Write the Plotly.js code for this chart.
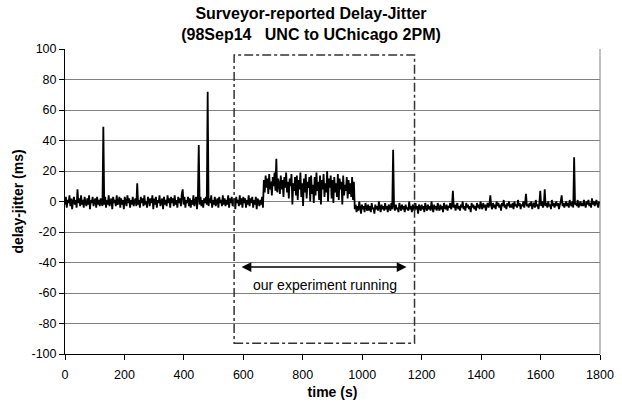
<!DOCTYPE html>
<html>
<head>
<meta charset="utf-8">
<script src="https://cdn.plot.ly/plotly-3.0.1.min.js"></script>
<style>html,body{margin:0;padding:0;background:#fff;}#chart{width:622px;height:404px;}</style>
</head>
<body>
<div id="chart"></div>
<script>
// sample interval (s) of the delay-jitter samples
var sampleStep = 3;

// 0 - 657 s : before the experiment
var jitterA = [
 -2,3,-4,1,-1,4,-3,2,-5,0,3,-2,1,-4,8,-1,2,-3,4,-2,
 1,-4,3,-1,-3,2,-2,4,-5,1,-1,3,-3,0,2,-4,3,-2,1,-3,
 2,-1,-3,49,-2,3,-4,1,-2,4,-3,0,2,-5,3,-1,1,-3,4,-2,
 -1,3,-4,2,-2,1,-5,3,0,-3,4,-1,2,-4,1,-2,3,-3,0,2,
 -3,12,-2,1,-4,3,-1,2,-3,4,-2,0,-4,3,1,-3,2,-1,4,-5,
 2,-2,3,-4,1,-1,4,-3,0,2,-5,3,-2,1,-3,4,-1,2,-4,3,
 -1,2,-3,4,-2,1,-4,3,-1,2,-3,5,8,-2,3,-4,1,-1,3,-3,
 2,-4,1,-2,4,-3,0,3,-5,2,37,-2,3,-3,1,-4,2,-1,3,-2,
 72,-3,2,-1,4,-4,1,-2,3,-3,0,2,-4,3,-1,1,-3,4,-2,2,
 -3,1,-2,4,-4,2,-1,3,-3,0,2,-5,3,-1,1,-3,4,-2,2,-4,
 3,-1,2,-4,1,-2,4,-3,2,-1,3,-4,1,-2,3,-5,2,0,-3,1
];
// 660 - 957 s : experiment running
var jitterB = [
 -2,3,-4,14,6,17,9,15,5,18,8,13,4,16,10,19,7,28,6,15,
 11,5,17,8,14,3,16,9,19,6,13,2,15,10,18,-2,12,7,16,4,
 17,1,14,8,19,3,12,-3,15,6,18,2,13,9,16,0,17,5,11,-1,
 16,4,19,7,13,1,17,-2,14,8,18,3,12,6,20,0,15,9,17,2,
 14,-1,16,6,12,3,18,1,15,8,13,-2,17,4,11,7,16,2,14,5
];
// 960 - 1797 s : after
var jitterC = [
 12,3,16,1,13,-5,-2,-7,-3,-6,0,-4,-8,-2,-5,-3,-7,-1,-4,-6,
 -2,-6,-3,-7,-1,-5,-4,-8,-2,-5,-3,-6,0,-4,-7,-2,-5,-3,-6,-1,
 -5,-3,-7,-2,-4,-6,-1,-5,34,-3,-6,-2,-5,-4,-7,-1,-4,-6,-2,-5,
 -3,-7,-2,-5,-4,-6,0,-5,-3,-7,-2,-4,-6,-1,-5,-3,-8,-2,-4,-6,
 -2,-5,-3,-7,-1,-4,-6,-2,-5,-3,-6,0,-4,-7,-2,-5,-3,-6,-1,-4,
 -6,-2,-5,-3,-7,-1,-4,-5,-2,-6,-3,-4,-1,-5,-3,7,-4,-2,-6,-3,
 -1,-5,-3,-6,-2,-4,0,-5,-3,-6,-1,-4,-2,-5,-3,-7,-1,-4,-2,-5,
 -3,-6,-1,-4,-2,-5,0,-3,-5,-1,-4,-2,-6,-3,-1,-4,-2,4,-3,-5,
 -1,-4,-2,-5,0,-3,-1,-4,-2,-6,-1,-3,1,-4,-2,-5,-1,-3,0,-4,
 -2,-4,-1,-5,0,-3,-2,-4,1,-3,-1,-5,-2,-3,0,-4,-1,5,-3,-2,
 -4,-1,-3,0,-5,-2,-1,-4,1,-3,-2,-5,-1,7,-3,0,-4,-2,8,-3,
 -1,-4,0,-3,-2,-5,1,-3,-1,-4,-2,0,-3,-1,-5,-2,0,4,-3,-1,
 -4,-2,0,-3,-1,-4,1,-2,-3,0,-4,29,-2,-1,-3,1,-4,-2,0,-3,
 -1,-3,1,-2,-4,0,-2,1,-3,-1,-4,2,-2,0,-3,-1,1,-2,-4,0
];

var yTickVals = [-100,-80,-60,-40,-20,0,20,40,60,80,100];
var yTickText = ["-100","-80","-60","-40","-20","0","20","40","60","80","100"];
var xTickVals = [0,200,400,600,800,1000,1200,1400,1600,1800];
var xTickText = ["0","200","400","600","800","1000","1200","1400","1600","1800"];

// experiment window box and arrow (data units)
var boxX = [569, 1176];
var boxY = [-93, 96];
var arrowX = [589, 1149];
var arrowY = -43;
var noteText = "our experiment running";
var noteX = 875;
var noteY = -55;

var jitter = jitterA.concat(jitterB, jitterC);
var times = jitter.map(function (v, i) { return i * sampleStep; });

var font = "Arial, 'Liberation Sans', sans-serif";
var tickSize = 12.5;
var axisTitleSize = 14;

var trace = {
  x: times, y: jitter, type: "scatter", mode: "lines",
  line: {color: "#000000", width: 1.8, simplify: false},
  hoverinfo: "skip", showlegend: false
};

var layout = {
  width: 622, height: 404,
  margin: {l: 65, r: 22, t: 49, b: 50, pad: 0},
  paper_bgcolor: "#ffffff", plot_bgcolor: "#ffffff",
  font: {family: font, size: 12, color: "#000000"},
  showlegend: false,
  title: {
    text: "<b>Surveyor-reported Delay-Jitter<br>(98Sep14\u00a0\u00a0\u00a0UNC to UChicago 2PM)</b>",
    font: {family: font, size: 16, color: "#000000"},
    x: 0.5, xref: "container", xanchor: "center",
    y: 0.952, yref: "container", yanchor: "top"
  },
  xaxis: {
    range: [0, 1800], tickmode: "array", tickvals: xTickVals, ticktext: xTickText,
    showgrid: false, zeroline: false, showline: true, linecolor: "#000000", linewidth: 1,
    ticks: "outside", ticklen: 5, tickcolor: "#000000", tickwidth: 1,
    ticklabelstandoff: 4,
    tickfont: {family: font, size: tickSize, color: "#000000"},
    title: {text: "<b>time (s)</b>", font: {family: font, size: axisTitleSize, color: "#000000"}, standoff: 6},
    fixedrange: true
  },
  yaxis: {
    range: [-100, 100], tickmode: "array", tickvals: yTickVals, ticktext: yTickText,
    showgrid: true, gridcolor: "#808080", gridwidth: 1,
    zeroline: false, showline: true, linecolor: "#000000", linewidth: 1,
    ticks: "outside", ticklen: 5, tickcolor: "#000000", tickwidth: 1,
    tickfont: {family: font, size: tickSize, color: "#000000"},
    title: {text: "<b>delay-jitter (ms)</b>", font: {family: font, size: axisTitleSize, color: "#000000"}, standoff: 4},
    fixedrange: true
  },
  shapes: [
    {type: "line", xref: "paper", yref: "paper", x0: 1, x1: 1, y0: 0, y1: 1,
     line: {color: "#808080", width: 1}, layer: "below"},
    {type: "rect", xref: "x", yref: "y", x0: boxX[0], x1: boxX[1], y0: boxY[0], y1: boxY[1],
     line: {color: "#333333", width: 1.5, dash: "dashdot"}, fillcolor: "rgba(0,0,0,0)", layer: "above"}
  ],
  annotations: [
    {x: arrowX[1], y: arrowY, ax: arrowX[0], ay: arrowY, xref: "x", yref: "y", axref: "x", ayref: "y",
     text: "", showarrow: true, arrowside: "end+start", arrowhead: 2, startarrowhead: 2,
     arrowsize: 1.3, startarrowsize: 1.3, arrowwidth: 1.5, arrowcolor: "#000000", standoff: 0, startstandoff: 0},
    {x: noteX, y: noteY, xref: "x", yref: "y", text: noteText, showarrow: false,
     font: {family: font, size: 14, color: "#000000"}, bgcolor: "rgba(255,255,255,0)"}
  ]
};

Plotly.newPlot("chart", [trace], layout, {displayModeBar: false, staticPlot: true});
</script>
</body>
</html>
